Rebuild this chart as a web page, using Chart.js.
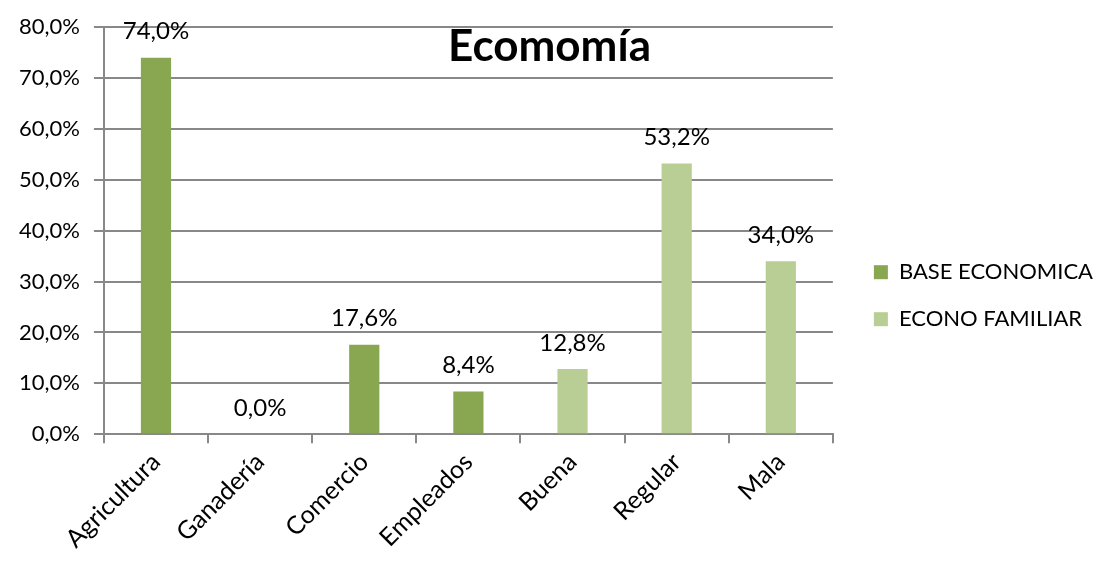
<!DOCTYPE html>
<html>
<head>
<meta charset="utf-8">
<script src="https://cdn.jsdelivr.net/npm/chart.js@4/dist/chart.umd.min.js"></script>
<style>
  html, body { margin: 0; padding: 0; background: #fff; }
  #wrap { width: 1099px; height: 562px; }
</style>
</head>
<body>
<div id="wrap"><canvas id="econChart"></canvas></div>
<script>
// datos
var categorias = ['Agricultura', 'Ganadería', 'Comercio', 'Empleados', 'Buena', 'Regular', 'Mala'];
var baseEconomica = [74.0, 0.0, 17.6, 8.4, null, null, null];
var econoFamiliar = [null, null, null, null, 12.8, 53.2, 34.0];
var tituloGrafico = 'Ecomomía';

function pct(v) {
    return v.toFixed(1).replace('.', ',') + '%';
}

Chart.defaults.font.family = 'Lato, "Noto Sans", sans-serif';
Chart.defaults.font.size = 22;
Chart.defaults.color = '#000';

// etiquetas de valor encima de las barras + titulo dentro del area
var etiquetas = {
    id: 'etiquetas',
    afterLayout: function (chart) {
        // separar un poco la leyenda del area del grafico
        chart.legend.left += 16;
        chart.legend.right += 16;
    },
    afterDatasetsDraw: function (chart) {
        var ctx = chart.ctx;
        ctx.save();
        ctx.fillStyle = '#000';
        ctx.font = '24px Lato, "Noto Sans", sans-serif';
        ctx.textAlign = 'center';
        ctx.textBaseline = 'middle';
        chart.data.datasets.forEach(function (ds, i) {
            var meta = chart.getDatasetMeta(i);
            meta.data.forEach(function (bar, j) {
                if (ds.data[j] == null) return;
                ctx.fillText(pct(ds.data[j]), bar.x, bar.y - 26);
            });
        });
        ctx.font = 'bold 44px Lato, "Noto Sans", sans-serif';
        ctx.fillText(tituloGrafico, chart.width / 2, 47);
        ctx.restore();
    }
};

new Chart(document.getElementById('econChart'), {
    type: 'bar',
    data: {
        labels: categorias,
        datasets: [{
            label: 'BASE ECONOMICA',
            data: baseEconomica,
            backgroundColor: '#89A650'
        }, {
            label: 'ECONO FAMILIAR',
            data: econoFamiliar,
            backgroundColor: '#B9CE94'
        }]
    },
    options: {
        responsive: true,
        maintainAspectRatio: false,
        animation: false,
        layout: {
            padding: { left: 5, right: 12, top: 10, bottom: 4 }
        },
        datasets: {
            bar: { categoryPercentage: 1, barPercentage: 0.29 }
        },
        plugins: {
            legend: {
                position: 'right',
                title: {
                    display: true,
                    text: '',
                    font: { size: 12 },
                    padding: { top: 9, bottom: 0 }
                },
                labels: {
                    boxWidth: 14,
                    boxHeight: 14,
                    padding: 25,
                    font: { size: 22 }
                }
            },
            tooltip: { enabled: false }
        },
        scales: {
            x: {
                stacked: true,
                grid: {
                    drawOnChartArea: false,
                    drawTicks: true,
                    tickLength: 9,
                    color: '#888',
                    lineWidth: 2
                },
                border: { color: '#888', width: 2 },
                ticks: { maxRotation: 45, minRotation: 45, padding: 4, font: { size: 25 } }
            },
            y: {
                stacked: true,
                min: 0,
                max: 80,
                ticks: {
                    stepSize: 10,
                    padding: 14,
                    callback: function (v) { return pct(v); }
                },
                grid: {
                    color: '#888',
                    lineWidth: 2,
                    tickLength: 10
                },
                border: { color: '#888', width: 2 }
            }
        }
    },
    plugins: [etiquetas]
});
</script>
</body>
</html>
